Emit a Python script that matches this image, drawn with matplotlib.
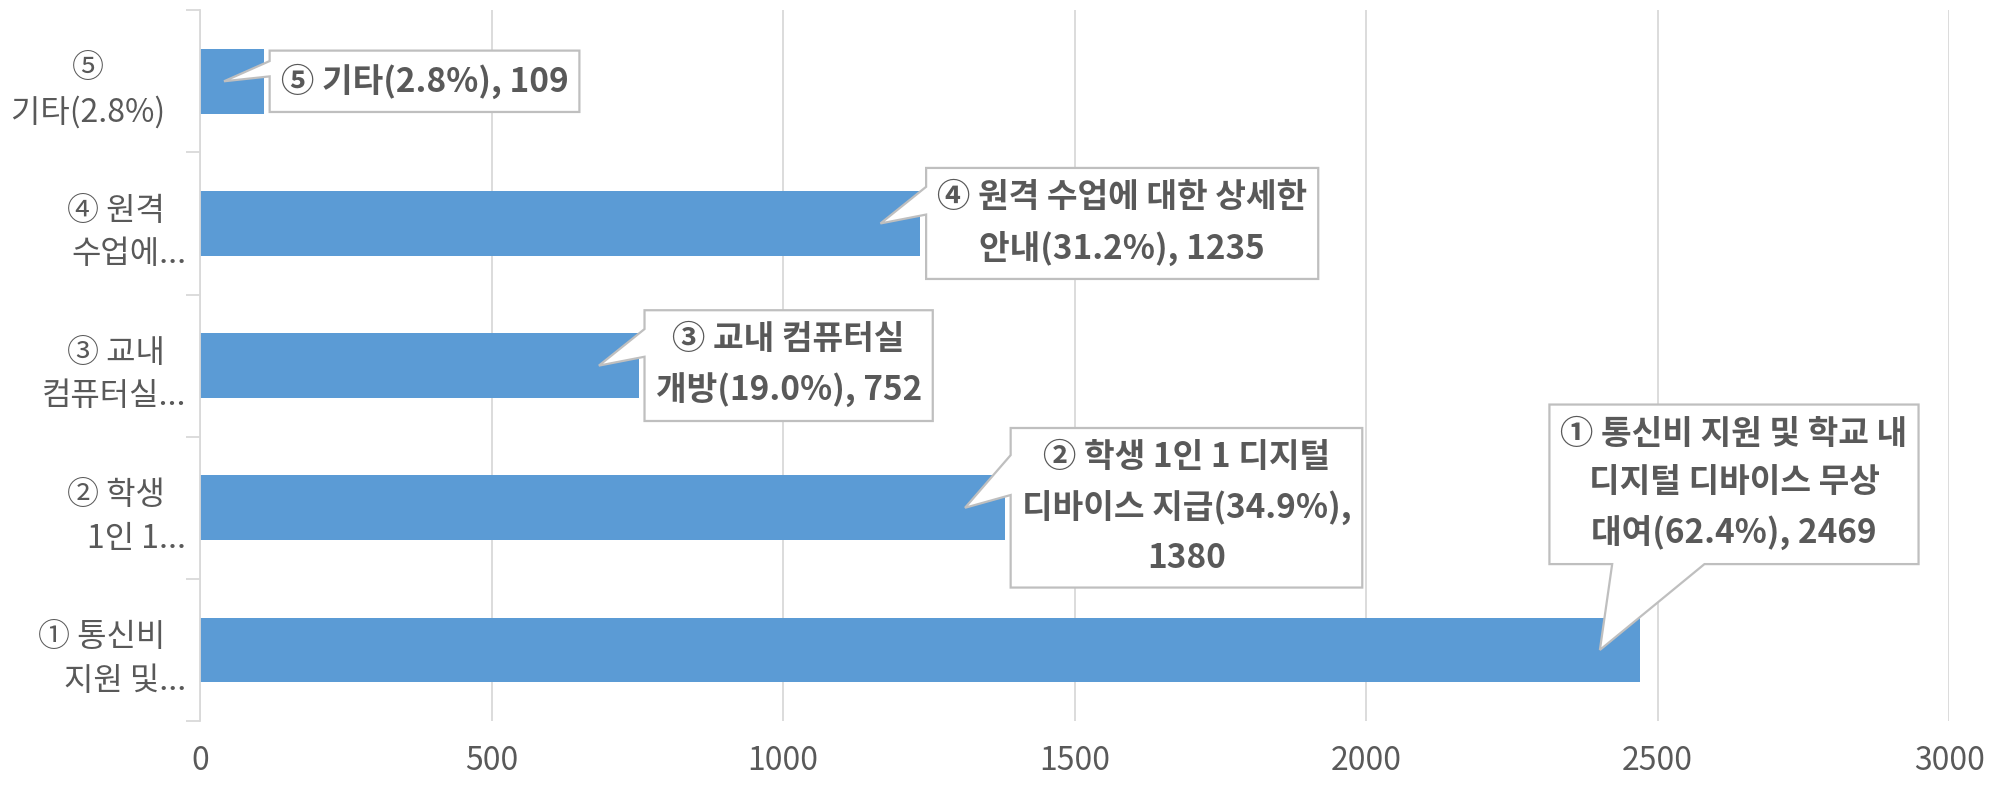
import matplotlib
matplotlib.use("Agg")
import matplotlib.pyplot as plt
from matplotlib.patches import Polygon

plt.rcParams['font.family'] = ['Noto Sans CJK KR', 'DejaVu Sans']

# data, bottom to top
categories = ['① 통신비\n지원 및...', '② 학생\n1인 1...', '③ 교내\n컴퓨터실...',
              '④ 원격\n수업에...', '⑤\n기타(2.8%)']
values = [2469, 1380, 752, 1235, 109]
labels = ['① 통신비 지원 및 학교 내\n디지털 디바이스 무상\n대여(62.4%), 2469',
          '② 학생 1인 1 디지털\n디바이스 지급(34.9%),\n1380',
          '③ 교내 컴퓨터실\n개방(19.0%), 752',
          '④ 원격 수업에 대한 상세한\n안내(31.2%), 1235',
          '⑤ 기타(2.8%), 109']
xticks = [0, 500, 1000, 1500, 2000, 2500, 3000]

bar_color = '#5B9BD5'
text_color = '#595959'
line_color = '#D9D9D9'
box_color = '#BFBFBF'

fig = plt.figure(figsize=(19.95, 7.85), dpi=100)
ax = fig.add_axes([0.1003, 0.0815, 0.8767, 0.9055])

y = list(range(len(values)))
ax.barh(y, values, height=0.455, color=bar_color, zorder=2)

ax.set_xlim(0, 3000)
ax.set_ylim(-0.5, len(values) - 0.5)
ax.set_xticks(xticks)
ax.set_xticklabels([str(v) for v in xticks])
ax.tick_params(axis='x', length=0, pad=17, labelsize=23, labelcolor=text_color)
ax.grid(axis='x', color=line_color, lw=1.3, zorder=0)
ax.set_axisbelow(True)

# wrapped category labels: first line keeps a trailing space block, like Excel
ylabels = []
for c in categories:
    a, b = c.split('\n')
    if b.endswith('...'):
        ylabels.append(a + '   \n' + b)
    else:
        ylabels.append(a + '   \n' + b + '   ')
ax.set_yticks(y)
ax.set_yticklabels(ylabels, linespacing=1.45)
for lab, c in zip(ax.get_yticklabels(), categories):
    lab.set_multialignment('right' if c.endswith('...') else 'center')
ax.set_yticks([i - 0.5 for i in range(len(values) + 1)], minor=True)
ax.tick_params(axis='y', which='major', length=0, pad=10, labelsize=23, labelcolor=text_color)
ax.tick_params(axis='y', which='minor', length=10, width=1.3, color=line_color)

for s in ['top', 'right', 'bottom']:
    ax.spines[s].set_visible(False)
ax.spines['left'].set_color(line_color)
ax.spines['left'].set_linewidth(1.3)

# callout labels
texts = []
for i, (v, lab) in enumerate(zip(values, labels)):
    kw = dict(fontsize=24, fontweight='bold', color=text_color, linespacing=1.6,
              multialignment='center', zorder=5)
    if i == 0:
        t = ax.text(2631, 1.165, lab, ha='center', va='center', **kw)
    else:
        t = ax.annotate(lab, (v, i), xytext=(17, 0), textcoords='offset pixels',
                        ha='left', va='center', **kw)
    texts.append(t)

fig.canvas.draw()
renderer = fig.canvas.get_renderer()
inv = ax.transData.inverted()
padx, pady = 11, 13
for i, (v, t) in enumerate(zip(values, texts)):
    bb = t.get_window_extent(renderer)
    x0, x1 = bb.x0 - padx, bb.x1 + padx
    y0, y1 = bb.y0 - pady, bb.y1 + pady
    w, h = x1 - x0, y1 - y0
    tip = tuple(ax.transData.transform((v - 68, i)))
    if i == 0:
        pts = [(x0, y0), (x0 + 0.17 * w, y0), tip, (x0 + 0.42 * w, y0),
               (x1, y0), (x1, y1), (x0, y1)]
    else:
        pts = [(x0, y0), (x1, y0), (x1, y1), (x0, y1), (x0, y1 - 0.17 * h),
               tip, (x0, y1 - 0.42 * h)]
    pts = [inv.transform(p) for p in pts]
    ax.add_patch(Polygon(pts, closed=True, fc='white', ec=box_color, lw=1.6,
                         zorder=4, clip_on=False))

fig.savefig('out.png', dpi=100)
